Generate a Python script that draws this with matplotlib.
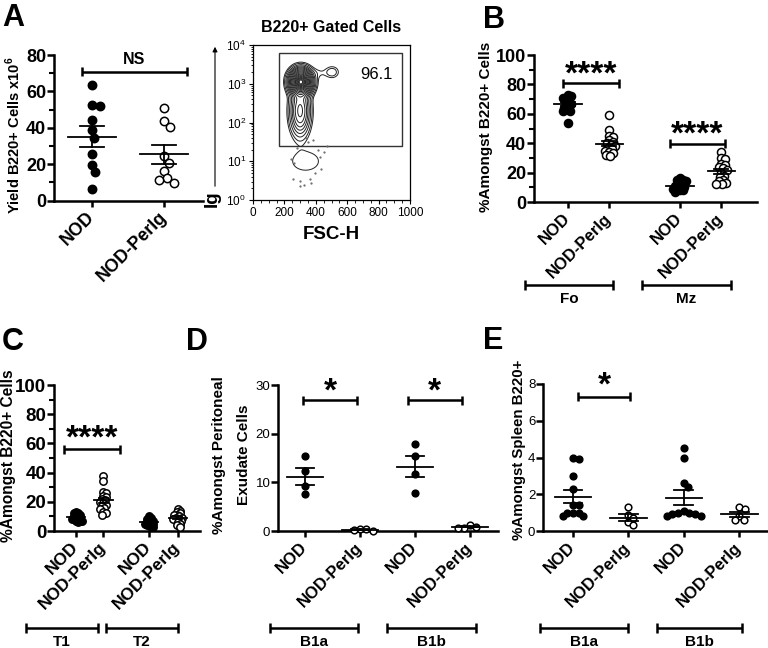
import numpy as np
import matplotlib
matplotlib.use("Agg")
import matplotlib.pyplot as plt
from matplotlib import transforms
from matplotlib.patches import Rectangle, FancyArrowPatch
from matplotlib.ticker import MultipleLocator, LogLocator, NullFormatter, LogFormatterMathtext

plt.rcParams['font.family'] = ['Liberation Sans', 'DejaVu Sans']
plt.rcParams['mathtext.fontset'] = 'custom'
plt.rcParams['mathtext.rm'] = 'Liberation Sans'
plt.rcParams['mathtext.bf'] = 'Liberation Sans:bold'

# ---------------- data ----------------
cat_labels = ["NOD", "NOD-PerIg"]

# Panel A: yield of B220+ cells (x10^6)
A_nod = [63.5, 52.7, 52.2, 44.2, 38.7, 34.5, 25.5, 19.5, 15.5, 6.2]
A_perig = [50.9, 43.6, 40.5, 24.5, 20.9, 16.4, 12.4, 11.5, 9.5]

# Panel A flow plot: density components (FSC-H, log10 Ig)
flow_cx = [305, 300, 505, 420, 335]
flow_cy = [3.05, 2.30, 3.30, 3.28, 1.00]
flow_sx = [37, 35, 28, 45, 85]
flow_sy = [0.17, 0.35, 0.10, 0.10, 0.24]
flow_amp = [1.0, 0.22, 0.03, 0.012, 0.019]
flow_levels = [0.012, 0.02, 0.035, 0.055, 0.08, 0.11, 0.15, 0.2, 0.26, 0.33, 0.41, 0.5, 0.58,
               0.66, 0.74, 0.82, 0.88, 0.94, 0.98]
flow_dots_x = [255, 300, 362, 392, 425, 282, 352, 383, 240, 433, 322, 372, 262, 412, 455, 470, 340, 300]
flow_dots_ly = [0.55, 0.50, 0.55, 0.70, 1.10, 1.35, 1.50, 1.55, 1.05, 0.80, 0.40, 0.45, 0.95, 1.30, 1.25, 1.40, 1.60, 0.35]
gate_x = [166, 949]
gate_ly = [1.39, 3.79]
gate_value = "96.1"

# Panel B: Fo / Mz
B_groups = ["Fo", "Mz"]
B_fo_nod = [73, 72, 71, 71, 70, 69, 68, 67, 66, 65, 64, 63, 62, 62, 54]
B_fo_perig = [59, 49, 45, 44, 42, 41, 40, 39, 38, 37, 36, 35, 34, 33, 32, 31]
B_mz_nod = [16, 15, 15, 14, 13, 12, 11, 11, 10, 10, 9, 9, 8, 8, 7]
B_mz_perig = [34, 30, 29, 26, 25, 24, 23, 22, 20, 18, 17, 15, 14, 13, 12, 12]

# Panel C: T1 / T2
C_groups = ["T1", "T2"]
C_t1_nod = [13, 12, 12, 11, 11, 10, 10, 9, 9, 8, 8, 8, 7, 7, 7, 6]
C_t1_perig = [38, 34, 27, 26, 24, 23, 22, 21, 20, 19, 18, 17, 16, 15, 13, 12, 11]
C_t2_nod = [10, 9, 8, 8, 7, 7, 6, 6, 5, 5, 5, 4, 4, 3, 3]
C_t2_perig = [15, 14, 13, 12, 11, 11, 10, 9, 9, 8, 8, 7, 6, 5, 4, 3]

# Panel D: peritoneal exudate B1a / B1b
D_groups = ["B1a", "B1b"]
D_b1a_nod = [15.4, 12.4, 9.2, 7.6]
D_b1a_perig = [0.5, 0.2, 0.0, 0.4]
D_b1b_nod = [17.9, 15.4, 11.7, 7.9]
D_b1b_perig = [1.3, 0.8, 0.7, 0.7]

# Panel E: spleen B1a / B1b
E_groups = ["B1a", "B1b"]
E_b1a_nod = [4.0, 3.9, 3.0, 2.3, 1.4, 1.4, 1.0, 1.0, 1.0, 0.8, 0.8]
E_b1a_perig = [1.3, 0.85, 0.7, 0.5, 0.3]
E_b1b_nod = [4.5, 4.0, 2.6, 2.4, 1.1, 1.0, 1.0, 0.9, 0.9, 0.8, 0.8]
E_b1b_perig = [1.3, 1.2, 0.8, 0.6, 0.6]

# ---------------- helpers ----------------
W, H = 768, 648
fig = plt.figure(figsize=(W / 100, H / 100), dpi=100)


def add_ax(l, t, r, b):
    return fig.add_axes([l / W, 1 - b / H, (r - l) / W, (b - t) / H])


def setup(ax, xlim, ylim, major, minor, tick_fs, bold_ticks, pos, cat_fs):
    ax.set_xlim(xlim)
    ax.set_ylim(ylim)
    for s in ["top", "right"]:
        ax.spines[s].set_visible(False)
    for s in ["left", "bottom"]:
        ax.spines[s].set_linewidth(1.8)
    ticks = np.arange(ylim[0], ylim[1] + major / 2, major)
    ax.set_yticks(ticks)
    ax.set_yticklabels([f"{t:g}" for t in ticks], fontsize=tick_fs,
                       fontweight="bold" if bold_ticks else "normal")
    if minor:
        ax.yaxis.set_minor_locator(MultipleLocator(minor))
    ax.tick_params(axis="y", which="major", length=5, width=1.8, pad=0.5)
    ax.tick_params(axis="y", which="minor", length=3.5, width=1.5)
    ax.set_xticks(pos)
    labs = (cat_labels * 2)[:len(pos)]
    ax.set_xticklabels(labs, rotation=45, ha="right", va="center", rotation_mode="anchor",
                       fontsize=cat_fs, fontweight="bold")
    ax.tick_params(axis="x", length=4, width=1.8, pad=6)


def swarm(ax, xc, vals, d_px):
    vals = np.asarray(vals, float)
    tr = ax.transData
    ypx = tr.transform(np.column_stack([np.full(len(vals), xc), vals]))[:, 1]
    ppu = tr.transform((xc + 1, 0))[0] - tr.transform((xc, 0))[0]
    cands = [0.0]
    for k in range(1, 80):
        cands += [k * 0.1 * d_px, -k * 0.1 * d_px]
    placed = []
    res = np.zeros(len(vals))
    for i in np.argsort(-vals, kind="stable"):
        for c in cands:
            if all((c - px) ** 2 + (ypx[i] - py) ** 2 >= d_px ** 2 for px, py in placed):
                break
        placed.append((c, ypx[i]))
        res[i] = c / ppu
    return res


def dots(ax, x, vals, filled, ms, sep=0.95, lw=1.3):
    d_px = ms * 100 / 72 * sep
    off = swarm(ax, x, vals, d_px)
    ax.plot(x + off, vals, "o", ms=ms, mfc="black" if filled else "white",
            mec="black", mew=1.1, clip_on=False, zorder=3, ls="none")
    v = np.asarray(vals, float)
    m = v.mean()
    se = v.std(ddof=1) / np.sqrt(len(v))
    ax.plot([x - 0.33, x + 0.33], [m, m], color="black", lw=lw, zorder=4, clip_on=False)
    ax.plot([x, x], [m - se, m + se], color="black", lw=lw, zorder=4, clip_on=False)
    for yy in (m - se, m + se):
        ax.plot([x - 0.17, x + 0.17], [yy, yy], color="black", lw=lw, zorder=4, clip_on=False)


def px_to_dy(ax, px):
    y0, y1 = ax.get_ylim()
    hpx = ax.get_position().height * H
    return px * (y1 - y0) / hpx


def sigbar(ax, x0, x1, y, text, fs, gap_px):
    c = px_to_dy(ax, 4.5)
    ax.plot([x0, x1], [y, y], color="black", lw=1.8, clip_on=False, solid_capstyle="butt")
    for xx in (x0, x1):
        ax.plot([xx, xx], [y - c, y + c], color="black", lw=1.8, clip_on=False, solid_capstyle="butt")
    ax.annotate(text, xy=((x0 + x1) / 2, y), xytext=(0, gap_px * 0.72),
                textcoords="offset points", ha="center", va="baseline",
                fontsize=fs, fontweight="bold", annotation_clip=False)


def groupbar(ax, x0, x1, ypx, label, fs=11):
    tr = transforms.blended_transform_factory(ax.transData, fig.transFigure)
    yf = 1 - ypx / H
    c = 5 / H
    ax.plot([x0, x1], [yf, yf], color="black", lw=1.8, transform=tr, clip_on=False, solid_capstyle="butt")
    for xx in (x0, x1):
        ax.plot([xx, xx], [yf - c, yf + c], color="black", lw=1.8, transform=tr, clip_on=False,
                solid_capstyle="butt")
    ax.text((x0 + x1) / 2, 1 - (ypx + 14) / H, label, transform=tr, ha="center", va="center",
            fontsize=fs, fontweight="bold")


def ftext(x, y, s, **kw):
    return fig.text(x / W, 1 - y / H, s, **kw)


# ---------------- Panel A (dot plot) ----------------
axA = add_ax(54, 55, 203, 200.7)
setup(axA, (-0.528, 1.54), (0, 80), 20, 10, 13, True, [0, 1], 13)
dots(axA, 0, A_nod, True, 6.0)
dots(axA, 1, A_perig, False, 6.0)
sigbar(axA, -0.14, 1.32, 70.7, "NS", 11.5, 8)
ftext(13, 135, "Yield B220+ Cells x10$^{\\mathbf{6}}$", rotation=90, ha="center", va="center",
      fontsize=10.5, fontweight="bold")

# ---------------- Panel A (flow plot) ----------------
axF = add_ax(253, 45, 410, 200)
gx = np.linspace(0, 1000, 400)
gly = np.linspace(0, 4, 400)
GX, GLY = np.meshgrid(gx, gly)
Z = np.zeros_like(GX)
for cx, cy, sx, sy, a in zip(flow_cx, flow_cy, flow_sx, flow_sy, flow_amp):
    Z += a * np.exp(-0.5 * (((GX - cx) / sx) ** 2 + ((GLY - cy) / sy) ** 2))
axF.set_yscale("log")
axF.contour(GX, 10 ** GLY, Z, levels=flow_levels, colors="#222222", linewidths=0.7)
axF.plot(flow_dots_x, 10 ** np.array(flow_dots_ly), "o", ms=0.6, color="#666666", ls="none")
axF.add_patch(Rectangle((gate_x[0], 10 ** gate_ly[0]), gate_x[1] - gate_x[0],
                        10 ** gate_ly[1] - 10 ** gate_ly[0], fill=False, ec="#333333", lw=1.0))
axF.text(786, 1700, gate_value, ha="center", va="center", fontsize=12)
axF.set_xlim(0, 1000)
axF.set_ylim(1, 1e4)
axF.xaxis.set_major_locator(MultipleLocator(200))
axF.xaxis.set_minor_locator(MultipleLocator(50))
axF.yaxis.set_major_locator(LogLocator(base=10, numticks=10))
axF.yaxis.set_major_formatter(LogFormatterMathtext())
axF.yaxis.set_minor_locator(LogLocator(base=10, subs=np.arange(2, 10), numticks=20))
axF.yaxis.set_minor_formatter(NullFormatter())
axF.tick_params(which="major", length=3, width=0.8, labelsize=8.5, pad=2)
axF.tick_params(which="minor", length=1.8, width=0.6)
for s in axF.spines.values():
    s.set_linewidth(0.9)
ftext(331, 27, "B220+ Gated Cells", ha="center", va="center", fontsize=11.5, fontweight="bold")
ftext(331, 234, "FSC-H", ha="center", va="center", fontsize=13.5, fontweight="bold")
ftext(212, 199, "Ig", rotation=90, ha="center", va="center", fontsize=13.5, fontweight="bold")
fig.add_artist(FancyArrowPatch((215 / W, 1 - 189 / H), (215 / W, 1 - 44 / H), transform=fig.transFigure,
                               arrowstyle="-|>", mutation_scale=7, lw=0.8, color="black"))

# ---------------- Panel B ----------------
axB = add_ax(534, 55, 757, 202)
posB = [0, 1, 2.7, 3.7]
setup(axB, (-0.82, 4.56), (0, 100), 20, 10, 13, True, posB, 12)
dots(axB, posB[0], B_fo_nod, True, 5.8, 0.4)
dots(axB, posB[1], B_fo_perig, False, 5.8, 0.5)
dots(axB, posB[2], B_mz_nod, True, 5.8, 0.4)
dots(axB, posB[3], B_mz_perig, False, 5.8, 0.5)
sigbar(axB, -0.12, 1.23, 80.7, "****", 24, 0)
sigbar(axB, 2.46, 3.78, 39.6, "****", 24, 0)
groupbar(axB, -1.04, 1.08, 285, B_groups[0])
groupbar(axB, 1.78, 3.93, 285, B_groups[1])
ftext(486, 127, "%Amongst B220+ Cells", rotation=90, ha="center", va="center", fontsize=11,
      fontweight="bold")

# ---------------- Panel C ----------------
axC = add_ax(54, 385, 200, 531)
posC = [0, 1, 2.67, 3.7]
setup(axC, (-0.8, 4.51), (0, 100), 20, 10, 13.5, True, posC, 12.5)
dots(axC, posC[0], C_t1_nod, True, 5.3, 0.3)
dots(axC, posC[1], C_t1_perig, False, 5.3, 0.45)
dots(axC, posC[2], C_t2_nod, True, 5.3, 0.3)
dots(axC, posC[3], C_t2_perig, False, 5.3, 0.4)
sigbar(axC, -0.44, 1.6, 56, "****", 24, 2)
groupbar(axC, -1.82, 0.8, 628, C_groups[0])
groupbar(axC, 1.09, 3.71, 628, C_groups[1])
ftext(9, 456, "%Amongst B220+ Cells", rotation=90, ha="center", va="center", fontsize=11.2,
      fontweight="bold")

# ---------------- Panel D ----------------
axD = add_ax(278, 385, 498, 531)
posD = [0, 1, 2, 3]
setup(axD, (-0.49, 3.51), (0, 30), 10, None, 9.5, False, posD, 12)
dots(axD, posD[0], D_b1a_nod, True, 4.8)
dots(axD, posD[1], D_b1a_perig, False, 4.8)
dots(axD, posD[2], D_b1b_nod, True, 4.8)
dots(axD, posD[3], D_b1b_perig, False, 4.8)
sigbar(axD, -0.04, 0.95, 26.9, "*", 24, 0)
sigbar(axD, 1.87, 2.85, 26.9, "*", 24, 0)
groupbar(axD, -0.64, 0.96, 628, D_groups[0])
groupbar(axD, 1.49, 3.11, 628, D_groups[1])
ftext(219, 455, "%Amongst Peritoneal", rotation=90, ha="center", va="center", fontsize=11,
      fontweight="bold")
ftext(244, 455, "Exudate Cells", rotation=90, ha="center", va="center", fontsize=11,
      fontweight="bold")

# ---------------- Panel E ----------------
axE = add_ax(543, 384, 767, 531)
posE = [0, 1, 2, 3]
setup(axE, (-0.54, 3.5), (0, 8), 2, None, 9.5, False, posE, 12)
dots(axE, posE[0], E_b1a_nod, True, 4.8, 0.85)
dots(axE, posE[1], E_b1a_perig, False, 4.8, 0.85)
dots(axE, posE[2], E_b1b_nod, True, 4.8, 0.85)
dots(axE, posE[3], E_b1b_perig, False, 4.8, 0.85)
sigbar(axE, 0.09, 1.03, 7.3, "*", 24, 2)
groupbar(axE, -0.59, 0.99, 628, E_groups[0])
groupbar(axE, 1.51, 3.05, 628, E_groups[1])
ftext(519, 450, "%Amongst Spleen B220+", rotation=90, ha="center", va="center", fontsize=10.8,
      fontweight="bold")

# ---------------- panel letters ----------------
for lx, ly, lt in [(2, 3, "A"), (483, 5, "B"), (2, 327, "C"), (186, 327, "D"), (483, 326, "E")]:
    ftext(lx, ly, lt, ha="left", va="top", fontsize=22, fontweight="bold")

fig.savefig("out.png", dpi=100)
